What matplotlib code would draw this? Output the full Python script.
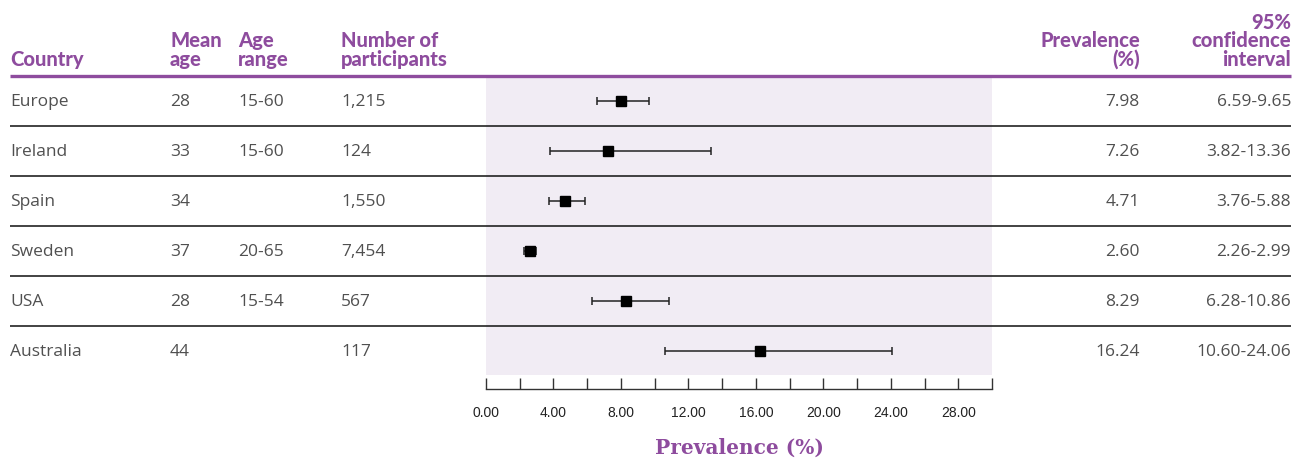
import matplotlib
matplotlib.use("Agg")
import matplotlib.pyplot as plt
from matplotlib.ticker import MultipleLocator, FormatStrFormatter

# data
countries = ["Europe", "Ireland", "Spain", "Sweden", "USA", "Australia"]
mean_age = ["28", "33", "34", "37", "28", "44"]
age_range = ["15-60", "15-60", "", "20-65", "15-54", ""]
participants = ["1,215", "124", "1,550", "7,454", "567", "117"]
prevalence = [7.98, 7.26, 4.71, 2.60, 8.29, 16.24]
ci_low = [6.59, 3.82, 3.76, 2.26, 6.28, 10.60]
ci_high = [9.65, 13.36, 5.88, 2.99, 10.86, 24.06]

PURPLE = "#8E4C9E"
SHADE = "#F1ECF4"
TEXT = "#505050"
W, H = 1308, 459

plt.rcParams["font.family"] = ["Open Sans", "DejaVu Sans"]

fig = plt.figure(figsize=(W / 100, H / 100), dpi=100)

# forest plot panel (pixel box 486..992 x 77..375)
ax = fig.add_axes([486 / W, (H - 375) / H, (992 - 486) / W, (375 - 77) / H])
ax.set_facecolor(SHADE)
rows = list(range(len(countries)))
xerr = [[p - lo for p, lo in zip(prevalence, ci_low)],
        [hi - p for p, hi in zip(prevalence, ci_high)]]
ax.errorbar(prevalence, rows, xerr=xerr, fmt="s", color="black", ecolor="#222222",
            elinewidth=1.1, capsize=3, capthick=1.1, markersize=7.5, zorder=3)
ax.set_xlim(0, 30)
ax.set_ylim(len(countries) - 0.52, -0.48)
for s in ["top", "right", "left"]:
    ax.spines[s].set_visible(False)
ax.spines["bottom"].set_position(("outward", 10))
ax.spines["bottom"].set_color("#333333")
ax.spines["bottom"].set_linewidth(1.0)
ax.set_yticks([])
ax.xaxis.set_major_locator(MultipleLocator(4))
ax.xaxis.set_minor_locator(MultipleLocator(2))
ax.xaxis.set_major_formatter(FormatStrFormatter("%.2f"))
ax.tick_params(axis="x", which="both", direction="in", length=8, width=1.0,
               color="#333333", pad=12)
ax.tick_params(axis="x", which="major", labelsize=10, labelcolor="#222222")
ax.set_xticks([0, 4, 8, 12, 16, 20, 24, 28])
for lab in ax.get_xticklabels():
    lab.set_family(["Liberation Sans", "DejaVu Sans"])
ax.set_xlabel("Prevalence (%)", fontsize=14.5, fontweight="bold", color=PURPLE,
              family=["DejaVu Serif"], labelpad=13)

# overlay in pixel coordinates for the table part
ov = fig.add_axes([0, 0, 1, 1])
ov.set_xlim(0, W)
ov.set_ylim(H, 0)
ov.axis("off")
ov.patch.set_alpha(0)

hdr = dict(color=PURPLE, fontsize=14.5, fontweight=900, va="baseline",
           linespacing=0.98, family=["Lato", "DejaVu Sans"])
ov.text(10, 66, "Country", ha="left", **hdr)
ov.text(170, 66, "Mean\nage", ha="left", **hdr)
ov.text(238, 66, "Age\nrange", ha="left", **hdr)
ov.text(341, 66, "Number of\nparticipants", ha="left", **hdr)
ov.text(1140, 66, "Prevalence\n(%)", ha="right", multialignment="right", **hdr)
ov.text(1291, 66, "95%\nconfidence\ninterval", ha="right", multialignment="right", **hdr)

ov.plot([10, 1291], [76, 76], color=PURPLE, lw=2.4, solid_capstyle="butt")

body = dict(color=TEXT, fontsize=12.5, fontweight="normal", va="center")
for i in rows:
    y = 102 + 50 * i
    ov.text(10, y, countries[i], ha="left", **body)
    ov.text(170, y, mean_age[i], ha="left", **body)
    ov.text(238, y, age_range[i], ha="left", **body)
    ov.text(341, y, participants[i], ha="left", **body)
    ov.text(1140, y, f"{prevalence[i]:.2f}", ha="right", **body)
    ov.text(1291, y, f"{ci_low[i]:.2f}-{ci_high[i]:.2f}", ha="right", **body)
    if i < len(countries) - 1:
        ov.plot([10, 1291], [101 + 50 * i + 25] * 2, color="#222222", lw=1.2,
                solid_capstyle="butt")

fig.savefig("out.png", dpi=100, facecolor="white")
